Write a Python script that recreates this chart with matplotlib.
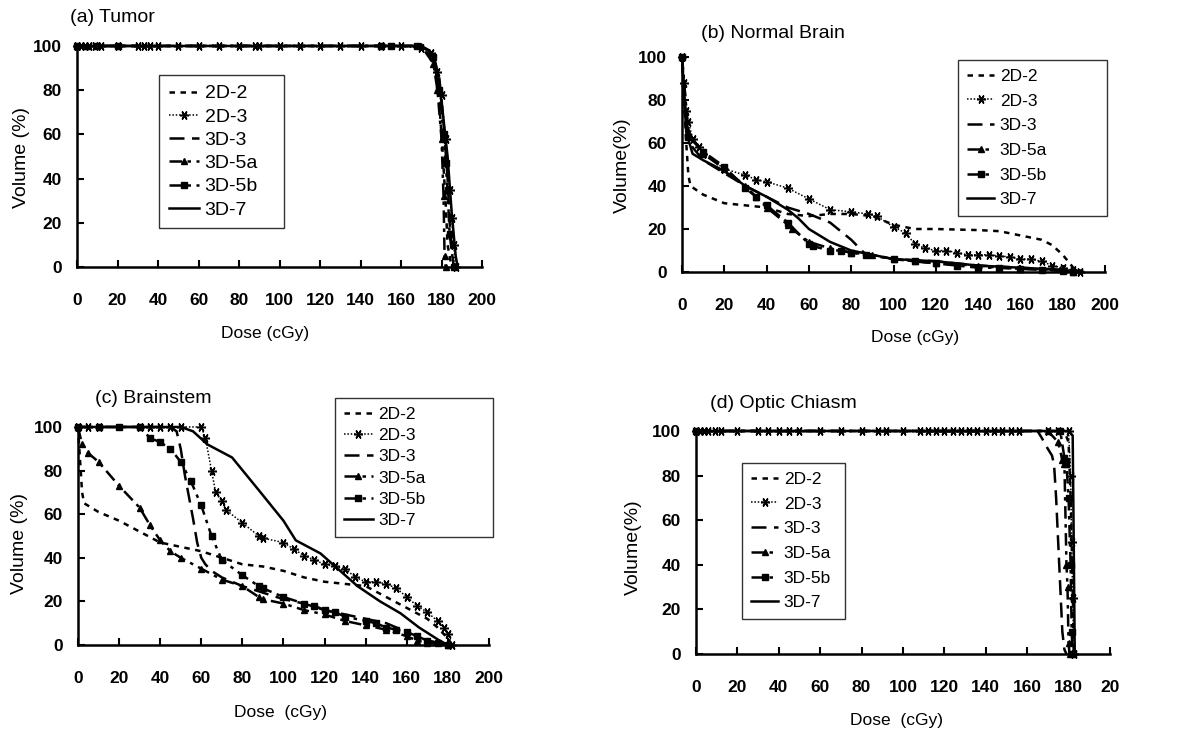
import matplotlib.pyplot as plt

plt.rcParams['font.family'] = ['Liberation Sans', 'DejaVu Sans']

labels = ["2D-2", "2D-3", "3D-3", "3D-5a", "3D-5b", "3D-7"]
x_ticks = [0, 20, 40, 60, 80, 100, 120, 140, 160, 180, 200]
y_ticks = [0, 20, 40, 60, 80, 100]

# (a) Tumor
a_2d2_x = [0, 170, 175, 178, 180, 182, 183, 185]
a_2d2_y = [100, 100, 97, 85, 60, 30, 10, 0]
a_2d3_x = [0, 2, 4, 6, 9, 12, 20, 30, 33, 36, 40, 50, 60, 70, 80, 88, 90, 100, 110, 120, 130, 140, 150, 160, 170, 175, 178, 180, 182, 184, 185, 186, 187]
a_2d3_y = [100, 100, 100, 100, 100, 100, 100, 100, 100, 100, 100, 100, 100, 100, 100, 100, 100, 100, 100, 100, 100, 100, 100, 100, 99, 97, 88, 78, 58, 35, 22, 10, 0]
a_3d3_x = [0, 170, 176, 179, 181, 183, 184, 186]
a_3d3_y = [100, 100, 96, 85, 65, 40, 20, 0]
a_3d5a_x = [0, 5, 170, 176, 178, 180, 181, 181.5, 182]
a_3d5a_y = [100, 100, 100, 92, 80, 58, 32, 5, 0]
a_3d5b_x = [0, 10, 20, 150, 155, 168, 176, 179, 181, 182, 183, 184, 186]
a_3d5b_y = [100, 100, 100, 100, 100, 100, 95, 80, 60, 47, 35, 15, 0]
a_3d7_x = [0, 170, 174, 177, 180, 183, 185, 187, 188]
a_3d7_y = [100, 100, 98, 92, 75, 50, 25, 5, 0]

# (b) Normal Brain
b_2d2_x = [0, 2, 3, 4, 10, 20, 30, 40, 50, 60, 70, 80, 90, 100, 110, 120, 140, 150, 160, 170, 175, 180, 185, 190]
b_2d2_y = [100, 60, 45, 40, 36, 32, 31, 30, 27, 26, 27, 27, 26, 22, 20, 20, 19.5, 19, 17, 15, 12.5, 8, 2, 0]
b_2d3_x = [0, 1, 2, 3, 5, 8, 10, 20, 30, 35, 40, 50, 60, 70, 80, 88, 92, 100, 106, 110, 115, 120, 125, 130, 135, 140, 145, 150, 155, 160, 165, 170, 175, 180, 185, 188]
b_2d3_y = [100, 88, 75, 70, 62, 58, 55, 48, 45, 43, 42, 39, 34, 29, 28, 27, 26, 21, 18, 13, 11, 10, 10, 9, 8, 8, 8, 7.5, 7, 6, 6, 5, 3, 2, 1, 0]
b_3d3_x = [0, 2, 5, 10, 20, 30, 40, 50, 60, 70, 80, 86, 90, 100, 120, 140, 160, 180, 185]
b_3d3_y = [100, 70, 58, 52, 46, 40, 35, 30, 27, 23, 15, 9, 8, 6, 5, 3, 2, 1, 0]
b_3d5a_x = [0, 3, 10, 20, 30, 35, 40, 50, 52, 60, 70, 80, 90, 100, 110, 120, 140, 150, 160, 180, 185]
b_3d5a_y = [100, 65, 55, 48, 40, 35, 30, 22, 20, 14, 11, 9, 8, 6, 5, 4, 3, 2, 1.5, 1, 0]
b_3d5b_x = [0, 3, 10, 20, 30, 35, 40, 50, 60, 62, 70, 75, 80, 87, 100, 110, 120, 130, 140, 150, 160, 170, 180, 185]
b_3d5b_y = [100, 63, 56, 49, 39, 35, 31, 23, 13, 12, 10, 10, 9, 8, 6, 5, 4, 3, 2, 2, 1.5, 1, 0.5, 0]
b_3d7_x = [0, 2, 5, 10, 20, 30, 40, 50, 55, 60, 70, 80, 90, 100, 120, 140, 160, 180, 188]
b_3d7_y = [100, 65, 55, 52, 47, 40, 35, 29, 25, 20, 14, 10, 8, 6, 5, 3, 2, 1, 0]

# (c) Brainstem
c_2d2_x = [0, 1, 2, 3, 10, 20, 30, 40, 50, 60, 70, 80, 90, 100, 110, 120, 130, 140, 150, 160, 170, 175, 180, 182]
c_2d2_y = [100, 85, 70, 65, 61, 57, 52, 47, 45, 43, 40, 37, 36, 34, 31, 29, 28, 27, 22, 17, 12, 8, 3, 0]
c_2d3_x = [0, 5, 10, 30, 35, 40, 45, 50, 60, 62, 65, 67, 70, 72, 80, 88, 90, 100, 105, 110, 115, 120, 125, 130, 135, 140, 145, 150, 155, 160, 165, 170, 175, 178, 180, 182]
c_2d3_y = [100, 100, 100, 100, 100, 100, 100, 100, 100, 95, 80, 70, 66, 62, 56, 50, 49, 47, 44, 41, 39, 37, 36, 35, 31, 29, 29, 28, 26, 22, 18, 15, 11, 8, 5, 0]
c_3d3_x = [0, 45, 48, 50, 52, 54, 56, 58, 60, 62, 65, 70, 75, 80, 90, 100, 110, 120, 130, 140, 150, 160, 170, 180]
c_3d3_y = [100, 100, 98, 90, 78, 68, 58, 47, 40, 37, 34, 31, 29, 27, 24, 21, 19, 16, 14, 12, 10, 6, 2, 0]
c_3d5a_x = [0, 2, 5, 10, 20, 30, 35, 40, 45, 50, 60, 70, 80, 88, 90, 100, 110, 120, 130, 140, 150, 160, 165, 170, 180]
c_3d5a_y = [100, 92, 88, 84, 73, 63, 55, 48, 43, 40, 35, 30, 27, 22, 21, 19, 16, 14, 11, 9, 7, 4, 2, 1, 0]
c_3d5b_x = [0, 10, 20, 30, 35, 40, 45, 50, 55, 60, 65, 70, 80, 88, 90, 100, 110, 115, 120, 125, 130, 140, 145, 150, 155, 160, 165, 170, 175, 180]
c_3d5b_y = [100, 100, 100, 100, 95, 93, 90, 84, 75, 64, 50, 39, 32, 27, 26, 22, 19, 18, 16, 15, 13, 11, 10, 8, 7, 6, 4, 2, 1, 0]
c_3d7_x = [0, 50, 56, 63, 75, 88, 100, 106, 118, 124, 136, 147, 157, 166, 176, 180]
c_3d7_y = [100, 100, 98, 92, 86, 71, 57, 48, 42, 37, 27, 20, 14.5, 8, 2, 0]

# (d) Optic Chiasm
d_2d2_x = [0, 178, 180, 181, 182, 182.5]
d_2d2_y = [100, 100, 95, 70, 30, 0]
d_2d3_x = [0, 2, 4, 6, 9, 12, 20, 30, 35, 40, 45, 50, 60, 70, 80, 88, 92, 100, 108, 112, 116, 120, 124, 128, 132, 136, 140, 144, 148, 152, 156, 170, 175, 180, 181, 181.5, 182, 182.5]
d_2d3_y = [100, 100, 100, 100, 100, 100, 100, 100, 100, 100, 100, 100, 100, 100, 100, 100, 100, 100, 100, 100, 100, 100, 100, 100, 100, 100, 100, 100, 100, 100, 100, 100, 100, 100, 80, 50, 25, 0]
d_3d3_x = [0, 165, 167, 170, 172, 173, 174, 175, 176, 177, 178, 179]
d_3d3_y = [100, 100, 97, 92, 89, 85, 70, 50, 30, 10, 2, 0]
d_3d5a_x = [0, 170, 175, 177, 178, 179, 179.5, 180, 180.5]
d_3d5a_y = [100, 100, 95, 87, 85, 40, 30, 5, 0]
d_3d5b_x = [0, 176, 178, 179, 180, 181, 181.5, 182]
d_3d5b_y = [100, 100, 88, 85, 70, 40, 10, 0]
d_3d7_x = [0, 180, 182, 182.5, 183]
d_3d7_y = [100, 100, 98, 50, 0]

styles = [
    dict(linestyle=(0, (2.2, 2.2)), linewidth=1.8),
    dict(linestyle=(0, (1, 1.2)), linewidth=1.1, marker=(6, 2, 90), markersize=6.5, markeredgewidth=1.1),
    dict(linestyle=(0, (6, 3)), linewidth=1.8),
    dict(linestyle=(0, (5, 2.2, 1.4, 2.2)), linewidth=1.8, marker='^', markersize=4.5),
    dict(linestyle=(0, (5, 2.2, 1.4, 2.2)), linewidth=1.8, marker='s', markersize=4),
    dict(linestyle='-', linewidth=1.8),
]

panels = [
    dict(rect=[0.0645, 0.6352, 0.3392, 0.3020],
         series=[(a_2d2_x, a_2d2_y), (a_2d3_x, a_2d3_y), (a_3d3_x, a_3d3_y),
                 (a_3d5a_x, a_3d5a_y), (a_3d5b_x, a_3d5b_y), (a_3d7_x, a_3d7_y)],
         title="(a) Tumor", title_xy=(70, 18), ylabel="Volume (%)", ylabel_xy=(22, 157),
         xlabel="Dose (cGy)", xlabel_xy=(265, 334),
         legend_box=(159, 75, 125), legend_fs=14, legend_sp=0.29, legend_hl=1.55,
         xticklabels=[str(t) for t in x_ticks]),
    dict(rect=[0.5712, 0.6284, 0.3543, 0.2937],
         series=[(b_2d2_x, b_2d2_y), (b_2d3_x, b_2d3_y), (b_3d3_x, b_3d3_y),
                 (b_3d5a_x, b_3d5a_y), (b_3d5b_x, b_3d5b_y), (b_3d7_x, b_3d7_y)],
         title="(b) Normal Brain", title_xy=(701, 33), ylabel="Volume(%)", ylabel_xy=(622, 165),
         xlabel="Dose (cGy)", xlabel_xy=(915, 338),
         legend_box=(958, 60, 149), legend_fs=12.5, legend_sp=0.55, legend_hl=1.6,
         xticklabels=[str(t) for t in x_ticks]),
    dict(rect=[0.0653, 0.1189, 0.3442, 0.2978],
         series=[(c_2d2_x, c_2d2_y), (c_2d3_x, c_2d3_y), (c_3d3_x, c_3d3_y),
                 (c_3d5a_x, c_3d5a_y), (c_3d5b_x, c_3d5b_y), (c_3d7_x, c_3d7_y)],
         title="(c) Brainstem", title_xy=(95, 398), ylabel="Volume (%)", ylabel_xy=(20, 543),
         xlabel="Dose  (cGy)", xlabel_xy=(280, 713),
         legend_box=(335, 398, 158), legend_fs=12.5, legend_sp=0.35, legend_hl=1.7,
         xticklabels=[str(t) for t in x_ticks]),
    dict(rect=[0.5829, 0.1066, 0.3467, 0.3046],
         series=[(d_2d2_x, d_2d2_y), (d_2d3_x, d_2d3_y), (d_3d3_x, d_3d3_y),
                 (d_3d5a_x, d_3d5a_y), (d_3d5b_x, d_3d5b_y), (d_3d7_x, d_3d7_y)],
         title="(d) Optic Chiasm", title_xy=(710, 403), ylabel="Volume(%)", ylabel_xy=(633, 547),
         xlabel="Dose  (cGy)", xlabel_xy=(897, 721),
         legend_box=(742, 463, 103), legend_fs=12.5, legend_sp=0.55, legend_hl=1.6,
         xticklabels=[str(t) for t in x_ticks[:-1]] + ["20"]),
]

W, H = 1194, 732
fig = plt.figure(figsize=(W / 100, H / 100), dpi=100)

for p in panels:
    ax = fig.add_axes(p["rect"])
    handles = []
    for (xs, ys), lab, st in zip(p["series"], labels, styles):
        h, = ax.plot(xs, ys, color='black', label=lab, clip_on=False, **st)
        handles.append(h)
    ax.set_xlim(0, 200)
    ax.set_ylim(0, 100)
    ax.set_xticks(x_ticks)
    ax.set_xticklabels(p["xticklabels"])
    ax.set_yticks(y_ticks)
    for s in ['top', 'right']:
        ax.spines[s].set_visible(False)
    for s in ['left', 'bottom']:
        ax.spines[s].set_linewidth(1.8)
    ax.tick_params(axis='x', direction='in', length=5, width=1.5, pad=19, labelsize=12.5)
    ax.tick_params(axis='y', direction='in', length=5, width=1.5, pad=11, labelsize=12.5)
    for t in ax.get_xticklabels() + ax.get_yticklabels():
        t.set_fontweight('bold')
    ax.patch.set_alpha(0)

    lx, ly, lw = p["legend_box"]
    leg = ax.legend(handles=handles, loc='upper left',
                    bbox_to_anchor=(lx / W, 1 - ly / H - 0.2, lw / W, 0.2),
                    bbox_transform=fig.transFigure, mode='expand', borderaxespad=0,
                    fontsize=p["legend_fs"], frameon=True, fancybox=False,
                    edgecolor='black', handlelength=p["legend_hl"], handletextpad=0.3,
                    labelspacing=p["legend_sp"], borderpad=0.5)
    leg.get_frame().set_linewidth(1.0)

    tx, ty = p["title_xy"]
    fig.text(tx / W, 1 - ty / H, p["title"], fontsize=14, ha='left', va='center')
    yx, yy = p["ylabel_xy"]
    fig.text(yx / W, 1 - yy / H, p["ylabel"], fontsize=14, rotation=90, ha='center', va='center')
    xx, xy = p["xlabel_xy"]
    fig.text(xx / W, 1 - xy / H, p["xlabel"], fontsize=12.5, ha='center', va='center')

fig.savefig("out.png", dpi=100, facecolor='white')
